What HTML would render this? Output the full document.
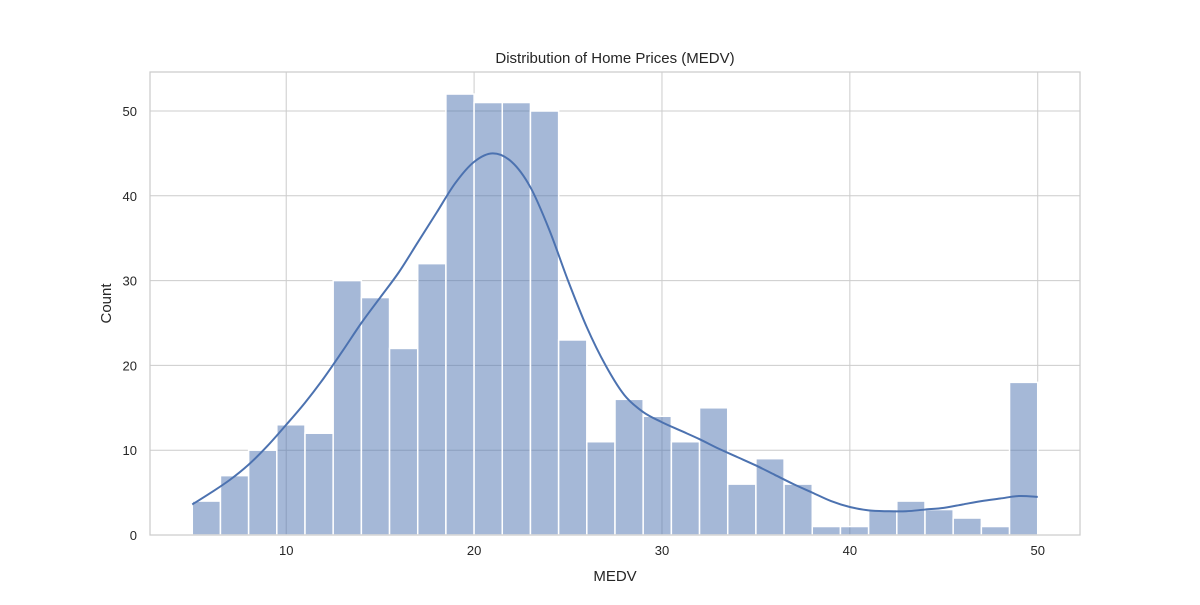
<!DOCTYPE html>
<html><head><meta charset="utf-8"><style>
body{margin:0;background:#fff}
svg text{font-family:"Liberation Sans",Arial,sans-serif;fill:#262626}
</style></head><body>
<svg id="chart" width="1200" height="600" xmlns="http://www.w3.org/2000/svg">
<rect width="1200" height="600" fill="#fff"/>
<g id="grid"></g><g id="bars"></g><g id="kde"></g><g id="axes"></g>
</svg>
<script>
const binStart = 5;
const binWidth = 1.5;
const counts = [4,7,10,13,12,30,28,22,32,52,51,51,50,23,11,16,14,11,15,6,9,6,1,1,3,4,3,2,1,18];
const kdeX = [5,6,7,8,9,10,11,12,13,14,15,16,17,18,19,20,21,22,23,24,25,26,27,28,29,30,31,32,33,34,35,36,37,38,39,40,41,42,43,44,45,46,47,48,49,50];
const kdeY = [3.6,5,6.5,8.3,10.5,13,15.6,18.5,21.7,25,28,31,34.5,38,41.5,44,45,44,41,36,30,24.5,20,16.5,14.5,13.3,12.3,11.3,10.2,9.2,8.2,7.1,6,5,4,3.3,2.9,2.8,2.8,3,3.2,3.6,4,4.3,4.6,4.5];
const xTicks = [10,20,30,40,50];
const yTicks = [0,10,20,30,40,50];
const L=150,R=1080,T=72,B=535, xmin=2.75,xmax=52.25,ymax=54.6;
const sx=v=>L+(v-xmin)/(xmax-xmin)*(R-L);
const sy=v=>B-v/ymax*(B-T);
const NS='http://www.w3.org/2000/svg';
function mk(p,tag,attrs){const e=document.createElementNS(NS,tag);for(const k in attrs)e.setAttribute(k,attrs[k]);document.getElementById(p).appendChild(e);return e;}
xTicks.forEach(t=>{const l=mk('grid','line',{x1:sx(t),x2:sx(t),y1:T,y2:B,stroke:'#cccccc','stroke-width':1});


const tx=mk('axes','text',{x:sx(t),y:B+20,'text-anchor':'middle','font-size':13});tx.textContent=t;

});
yTicks.forEach(t=>{const l=mk('grid','line',{x1:L,x2:R,y1:sy(t),y2:sy(t),stroke:'#cccccc','stroke-width':1});


const tx=mk('axes','text',{x:L-13,y:sy(t)+5,'text-anchor':'end','font-size':13});tx.textContent=t;

});
counts.forEach((c,i)=>{const x0=binStart+i*binWidth;const r=mk('bars','rect',{x:sx(x0),y:sy(c),width:sx(x0+binWidth)-sx(x0),height:sy(0)-sy(c),fill:'#4c72b0','fill-opacity':0.5,stroke:'#fff','stroke-width':1.5});

});
const pts=kdeX.map((x,i)=>[sx(x),sy(kdeY[i])]);
let d='M'+pts[0][0]+','+pts[0][1];
for(let i=0;i<pts.length-1;i++){const p0=pts[i-1]||pts[i],p1=pts[i],p2=pts[i+1],p3=pts[i+2]||p2;
d+=` C${p1[0]+(p2[0]-p0[0])/6},${p1[1]+(p2[1]-p0[1])/6} ${p2[0]-(p3[0]-p1[0])/6},${p2[1]-(p3[1]-p1[1])/6} ${p2[0]},${p2[1]}`;}
const k=mk('kde','path',{d:d,fill:'none',stroke:'#4c72b0','stroke-width':2});


const f=mk('axes','rect',{x:L,y:T,width:R-L,height:B-T,fill:'none',stroke:'#cccccc','stroke-width':1.25});


const ti=mk('axes','text',{x:(L+R)/2,y:63,'text-anchor':'middle','font-size':15});ti.textContent='Distribution of Home Prices (MEDV)';


const xl=mk('axes','text',{x:(L+R)/2,y:581,'text-anchor':'middle','font-size':15});xl.textContent='MEDV';


const yl=mk('axes','text',{x:111,y:(T+B)/2,'text-anchor':'middle','font-size':15,transform:`rotate(-90 111 ${(T+B)/2})`});yl.textContent='Count';


</script>
</body></html>
